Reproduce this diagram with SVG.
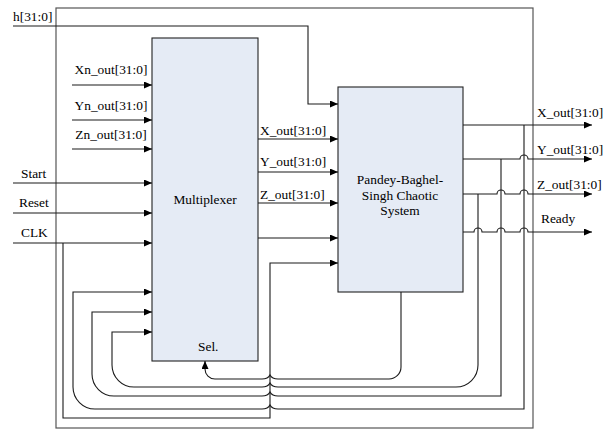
<svg xmlns="http://www.w3.org/2000/svg" width="612" height="430" viewBox="0 0 612 430">
<style>
.w{fill:none;stroke:#1a1a1a;stroke-width:1.1}
.a{marker-end:url(#ar)}
.t{font-family:'Liberation Serif','Times New Roman',Times,'DejaVu Serif',serif;font-size:13.4px;fill:#000}
.c{text-anchor:middle}
.box{fill:#e5ebf5;stroke:#222;stroke-width:1.1}
</style>
<defs>
<marker id="ar" markerUnits="userSpaceOnUse" markerWidth="8" markerHeight="7" refX="8" refY="3.5" orient="auto">
<path d="M0,0 L8,3.5 L0,7 z" fill="#000"/>
</marker>
</defs>
<rect id="frame" x="56" y="8" width="477" height="420" fill="none" stroke="#555" stroke-width="1.2"/>
<g id="mux" font-family="Liberation Serif, serif">
<rect class="box" x="152" y="38" width="106" height="323"/>
<text class="t c" x="205" y="204">Multiplexer</text>
<text class="t" x="198" y="351">Sel.</text>
</g>
<g id="chaos" font-family="Liberation Serif, serif">
<rect class="box" x="338" y="87" width="125" height="205"/>
<text class="t c" x="400" y="184">Pandey-Baghel-</text>
<text class="t c" x="400" y="199.5">Singh Chaotic</text>
<text class="t c" x="400" y="215">System</text>
</g>
<g id="labels" font-family="Liberation Serif, serif">
<text class="t" x="13" y="21">h[31:0]</text>
<text class="t c" x="111" y="74">Xn_out[31:0]</text>
<text class="t c" x="111" y="110">Yn_out[31:0]</text>
<text class="t c" x="111" y="139">Zn_out[31:0]</text>
<text class="t" x="21" y="178">Start</text>
<text class="t" x="19" y="207">Reset</text>
<text class="t" x="21" y="237">CLK</text>
<text class="t" x="260" y="135">X_out[31:0]</text>
<text class="t" x="260" y="166">Y_out[31:0]</text>
<text class="t" x="260" y="199">Z_out[31:0]</text>
<text class="t" x="537" y="117">X_out[31:0]</text>
<text class="t" x="537" y="154">Y_out[31:0]</text>
<text class="t" x="537" y="189">Z_out[31:0]</text>
<text class="t" x="541" y="223">Ready</text>
</g>
<g id="connectors">
<path class="w a" d="M13,26 H308 V104 H338"/>
<path class="w a" d="M72,85 H152"/>
<path class="w a" d="M72,120 H152"/>
<path class="w a" d="M72,149 H152"/>
<path class="w a" d="M13,183 H152"/>
<path class="w a" d="M13,213 H152"/>
<path class="w a" d="M13,243 H152"/>
<path class="w a" d="M63,243 V418 H270 V263 H338"/>
<path class="w a" d="M258,139 H338"/>
<path class="w a" d="M258,172 H338"/>
<path class="w a" d="M258,203 H338"/>
<path class="w a" d="M258,238 H338"/>
<path class="w a" d="M463,125 H592"/>
<path class="w a" d="M463,159 H520 A4,4 0 0 1 528,159 H592"/>
<path class="w a" d="M463,194 H497 A4,4 0 0 1 505,194 H520 A4,4 0 0 1 528,194 H592"/>
<path class="w a" d="M463,232 H474 A4,4 0 0 1 482,232 H497 A4,4 0 0 1 505,232 H520 A4,4 0 0 1 528,232 H592"/>
<path class="w a" d="M524,125 V409 H278 Q272,409 270,405 Q268,409 262,409 H95 A22,22 0 0 1 73,387 V292 H152"/>
<path class="w a" d="M501,159 V396 H278 Q272,396 270,392 Q268,396 262,396 H114 A22,22 0 0 1 92,374 V312 H152"/>
<path class="w a" d="M478,194 V365 A22,22 0 0 1 456,387 H278 Q272,387 270,383 Q268,387 262,387 H134 A22,22 0 0 1 112,365 V332 H152"/>
<path class="w a" d="M401,292 V367 A12,12 0 0 1 389,379 H278 Q272,379 270,375 Q268,379 262,379 H215 A10,10 0 0 1 205,369 V361"/>
</g>
</svg>
